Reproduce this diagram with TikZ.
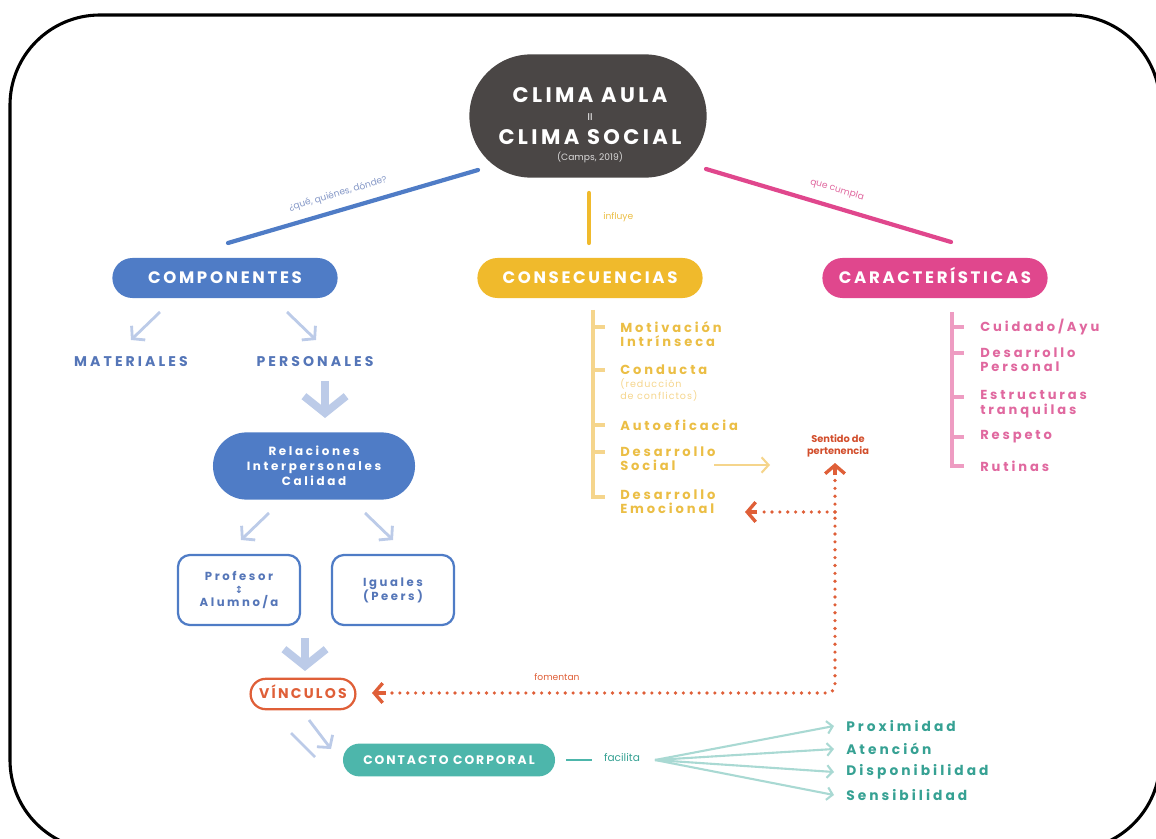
\documentclass[tikz,border=0pt]{standalone}
\usepackage{fontspec}
\setmainfont{Poppins}
\newfontfamily\wide[LetterSpace=16]{Poppins}
\newfontfamily\wider[LetterSpace=22]{Poppins}
\newfontfamily\semiwide[LetterSpace=10]{Poppins}
\newfontfamily\dejavu{DejaVu Sans}
\usetikzlibrary{arrows.meta,shapes.misc}
\definecolor{darkc}{HTML}{4A4645}
\definecolor{bluec}{HTML}{4F7CC6}
\definecolor{bluet}{HTML}{5576B8}
\definecolor{bluel}{HTML}{BCCBE8}
\definecolor{bluelab}{HTML}{8497C6}
\definecolor{yelc}{HTML}{F0BA2C}
\definecolor{yelt}{HTML}{EBBE45}
\definecolor{yell}{HTML}{F5D58C}
\definecolor{pinkc}{HTML}{E0478D}
\definecolor{pinkt}{HTML}{E0689F}
\definecolor{pinkl}{HTML}{EE9CC2}
\definecolor{orac}{HTML}{DF5F38}
\definecolor{orad}{HTML}{D24E2C}
\definecolor{tealc}{HTML}{4DB6AB}
\definecolor{tealt}{HTML}{36A193}
\definecolor{teall}{HTML}{A9D9D3}
\tikzset{
  pill/.style={rounded rectangle, inner sep=0pt, text=white, text height=8.4pt, text depth=0pt, font=\wide\bfseries\fontsize{11.8}{13}\selectfont},
  lbl/.style={inner sep=0pt, font=\fontsize{6.5}{8}\selectfont},
  item/.style={inner sep=0pt, anchor=west, align=left, font=\wider\bfseries\fontsize{9.3}{10.2}\selectfont},
  thinarr/.style={bluel, line width=2pt, -{Straight Barb[length=6pt, width=14pt, line width=2pt]}},
  bigarr/.style={bluel, line width=5.5pt, -{Straight Barb[length=12pt, width=30pt, line width=5.5pt]}},
  dotl/.style={orac, line width=2.6pt, line cap=round, dash pattern=on 0pt off 5.6pt},
  dothead/.style={-{Straight Barb[length=6pt, width=14pt, line width=2.4pt]}},
  fan/.style={teall, line width=1.5pt, -{Straight Barb[length=4pt, width=9pt, line width=1.5pt]}},
}
\begin{document}
\begin{tikzpicture}[x=0.025cm,y=-0.025cm]
\useasboundingbox (0,0) rectangle (1156,839);
\begin{scope}
\clip (0,0) rectangle (1156,839);
\draw[line width=2.2pt, rounded corners=2.25cm] (10,15) rectangle (1160,850);
\end{scope}

% main node
\node[rounded rectangle, fill=darkc, minimum width=5.93cm, minimum height=3.08cm, inner sep=0pt] (main) at (588,116) {};
\node[inner sep=0pt, text=white, font=\wide\bfseries\fontsize{15}{16}\selectfont] (t1) at (590,95) {CLIMA AULA};
\node[inner sep=0pt, text=white, font=\fontsize{7}{8}\selectfont] (t2) at (590,117) {II};
\node[inner sep=0pt, text=white, font=\wide\bfseries\fontsize{15}{16}\selectfont] (t3) at (590,137) {CLIMA SOCIAL};
\node[inner sep=0pt, text=white!80!darkc, font=\fontsize{6.5}{8}\selectfont] (t4) at (590,157) {(Camps, 2019)};

% category pills
\node[pill, fill=bluec, minimum width=5.63cm, minimum height=1cm] (comp) at (225,278) {COMPONENTES};
\node[pill, fill=yelc, minimum width=5.63cm, minimum height=1cm] (cons) at (590,278) {CONSECUENCIAS};
\node[pill, fill=pinkc, minimum width=5.63cm, minimum height=1cm] (car) at (935,278) {CARACTERÍSTICAS};

% connectors from main
\coordinate (b1) at (478,170); \coordinate (b2) at (228,243);
\draw[bluec, line width=3pt, line cap=round] (b1) -- (b2);
\node[lbl, text=bluelab, rotate=16.3] (lb) at (338,194) {¿qué, quiénes, dónde?};
\coordinate (y1) at (589,193); \coordinate (y2) at (589,243);
\draw[yelc, line width=3pt, line cap=round] (y1) -- (y2);
\node[lbl, text=yelt, anchor=west] (ly) at (603,217) {influye};
\coordinate (p1) at (706,169); \coordinate (p2) at (951,242);
\draw[pinkc, line width=3pt, line cap=round] (p1) -- (p2);
\node[lbl, text=pinkt, rotate=-16.5] (lp) at (837,190) {que cumpla};

% componentes branch
\node[inner sep=0pt, text=bluet, font=\wider\bfseries\fontsize{10}{11}\selectfont] (mat) at (131,362) {MATERIALES};
\node[inner sep=0pt, text=bluet, font=\wider\bfseries\fontsize{10}{11}\selectfont] (pers) at (315,362) {PERSONALES};
\coordinate (a1s) at (160,312); \coordinate (a1e) at (131,340);
\draw[thinarr] (a1s) -- (a1e);
\coordinate (a2s) at (287,312); \coordinate (a2e) at (316,340);
\draw[thinarr] (a2s) -- (a2e);
\coordinate (a3s) at (325,381); \coordinate (a3e) at (325,418);
\draw[bigarr] (a3s) -- (a3e);

\node[rounded rectangle, fill=bluec, minimum width=5.05cm, minimum height=1.68cm, inner sep=0pt, text=white, align=center, font=\wider\bfseries\fontsize{8.5}{10.5}\selectfont] (rel) at (314,466) {Relaciones\\Interpersonales\\Calidad};
\coordinate (a4s) at (269,513); \coordinate (a4e) at (241,540);
\draw[thinarr] (a4s) -- (a4e);
\coordinate (a5s) at (365,513); \coordinate (a5e) at (393,540);
\draw[thinarr] (a5s) -- (a5e);

\node[draw=bluec, line width=1.6pt, rounded corners=0.3cm, minimum width=3.05cm, minimum height=1.75cm, inner sep=0pt, text=bluet, align=center, font=\wider\bfseries\fontsize{8.3}{9}\selectfont] (prof) at (239,590) {Profesor\\{\dejavu\fontsize{7}{7}\selectfont ↕}\\Alumno/a};
\node[draw=bluec, line width=1.6pt, rounded corners=0.3cm, minimum width=3.05cm, minimum height=1.75cm, inner sep=0pt, text=bluet, align=center, font=\wider\bfseries\fontsize{8.3}{10}\selectfont] (ig) at (393,590) {Iguales\\(Peers)};
\coordinate (a6s) at (305,638); \coordinate (a6e) at (305,671);
\draw[bigarr] (a6s) -- (a6e);

\node[rounded rectangle, draw=orac, line width=1.6pt, minimum width=2.62cm, minimum height=0.76cm, inner sep=0pt, text=orac, text height=7.1pt, text depth=0pt, font=\wide\bfseries\fontsize{10}{11}\selectfont] (vinc) at (303,694) {VÍNCULOS};

% bottom arrows to contacto
\coordinate (a7s) at (309,720); \coordinate (a7e) at (331,749);
\coordinate (a8s) at (291,733); \coordinate (a8e) at (315,757);
\draw[bluel, line width=2pt] (a8s) -- (a8e);
\draw[thinarr] (a7s) -- (a7e);

\node[rounded rectangle, fill=tealc, minimum width=5.3cm, minimum height=0.82cm, inner sep=0pt, text=white, font=\wide\bfseries\fontsize{8.8}{10}\selectfont] (cont) at (449,760) {CONTACTO CORPORAL};
\coordinate (c1) at (566,760); \coordinate (c2) at (592,760);
\draw[tealc, line width=1.2pt] (c1) -- (c2);
\node[inner sep=0pt, text=tealt, font=\fontsize{7.5}{9}\selectfont] (fac) at (622,758) {facilita};
\coordinate (fs) at (655,760);
\node[item, text=tealt, font=\wider\bfseries\fontsize{9.8}{10}\selectfont] (f1) at (846,726) {Proximidad};
\node[item, text=tealt, font=\wider\bfseries\fontsize{9.8}{10}\selectfont] (f2) at (846,749) {Atención};
\node[item, text=tealt, font=\wider\bfseries\fontsize{9.8}{10}\selectfont] (f3) at (846,772) {Disponibilidad};
\node[item, text=tealt, font=\wider\bfseries\fontsize{9.8}{10}\selectfont] (f4) at (846,795) {Sensibilidad};
\foreach \t in {f1,f2,f3,f4} { \draw[fan] (fs) -- ([xshift=-0.3cm]\t.west); }

% consecuencias list
\coordinate (ct) at (593,310); \coordinate (cb) at (593,497);
\draw[yell, line width=3pt] (ct) -- (cb) -- ++(12,0);
\foreach \yy in {327,370,425,452} { \draw[yell, line width=3pt] (593,\yy) -- (605,\yy); }
\node[item, text=yelt] (m1) at (620,334) {Motivación\\Intrínseca};
\node[item, text=yelt] (m2) at (620,370) {Conducta};
\node[item, text=yell, font=\semiwide\fontsize{6.8}{7.5}\selectfont, anchor=north west] (m2b) at (620,378) {(reducción\\de conflictos)};
\node[item, text=yelt] (m3) at (620,425) {Autoeficacia};
\node[item, text=yelt] (m4) at (620,459) {Desarrollo\\Social};
\node[item, text=yelt] (m5) at (620,502) {Desarrollo\\Emocional};

% sentido de pertenencia
\node[inner sep=0pt, align=center, text=orad, font=\bfseries\fontsize{7}{8.5}\selectfont] (sent) at (838,446) {Sentido de\\pertenencia};
\coordinate (ys) at (714,465); \coordinate (ye) at (770,465);
\draw[yell, line width=1.5pt, -{Straight Barb[length=5pt, width=11pt, line width=1.5pt]}] (ys) -- (ye);

% dotted connectors
\coordinate (corner) at (835,693);
\coordinate (branch) at (835,512);
\coordinate (vtip) at (372,693);
\coordinate (stip) at (835,463);
\coordinate (etip) at (745,512);
\draw[dotl, rounded corners=0.2cm] (392,693) -- (corner) -- (branch);
\draw[dotl] (branch) -- (835,478);
\draw[dotl] (branch) -- (757,512);
\draw[orac, dothead, line width=2.4pt] (386,693) -- (vtip);
\draw[orac, dothead, line width=2.4pt] (835,475) -- (stip);
\draw[orac, dothead, line width=2.4pt] (757,512) -- (etip);
\node[lbl, text=orac] (fom) at (557,677) {fomentan};

% caracteristicas list
\coordinate (kt) at (952,312); \coordinate (kb) at (952,466);
\draw[pinkl, line width=3pt] (kt) -- (kb) -- ++(12,0);
\foreach \yy in {327,353,397,437} { \draw[pinkl, line width=3pt] (952,\yy) -- (964,\yy); }
\node[item, text=pinkt] (k1) at (980,327) {Cuidado/Ayu};
\node[item, text=pinkt] (k2) at (980,360) {Desarrollo\\Personal};
\node[item, text=pinkt] (k3) at (980,404) {Estructuras\\tranquilas};
\node[item, text=pinkt] (k4) at (980,437) {Respeto};
\node[item, text=pinkt] (k5) at (980,466) {Rutinas};
\end{tikzpicture}
\end{document}
